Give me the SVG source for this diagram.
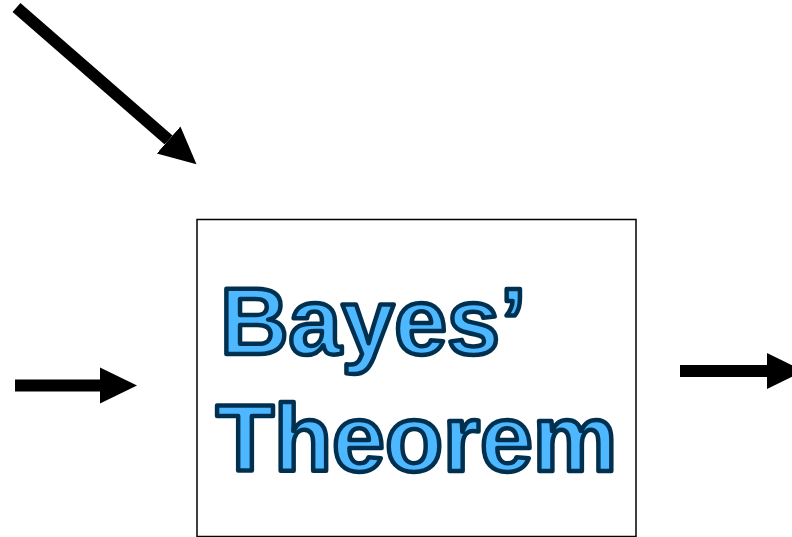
<svg xmlns="http://www.w3.org/2000/svg" width="792" height="537" viewBox="0 0 792 537">
<style>
.title{font-family:"Liberation Sans",Arial,sans-serif;font-weight:bold;font-size:95px;fill:#4db8ff;stroke:#00304f;stroke-width:4.5;stroke-linejoin:round}
.conn{stroke:#000;stroke-width:12;fill:none}
</style>
<defs>
<marker id="ah" markerUnits="userSpaceOnUse" markerWidth="40" markerHeight="40" refX="0" refY="18" orient="auto" viewBox="0 0 40 36">
<polygon points="0,0 37,18 0,36" fill="#000"/>
</marker>
</defs>
<rect width="792" height="537" fill="#fff"/>
<g id="connectors">
<line class="conn" x1="16.5" y1="7.5" x2="168.6" y2="140" marker-end="url(#ah)"/>
<line class="conn" x1="15" y1="385.5" x2="100" y2="385.5" marker-end="url(#ah)"/>
<line class="conn" x1="680" y1="371" x2="767" y2="371" marker-end="url(#ah)"/>
</g>
<g id="bayes">
<rect x="197" y="219.5" width="439" height="317" fill="#fff" stroke="#000" stroke-width="1.5"/>
<text class="title" x="220" y="354">Bayes’</text>
<text class="title" x="216" y="471">Theorem</text>
</g>
</svg>
